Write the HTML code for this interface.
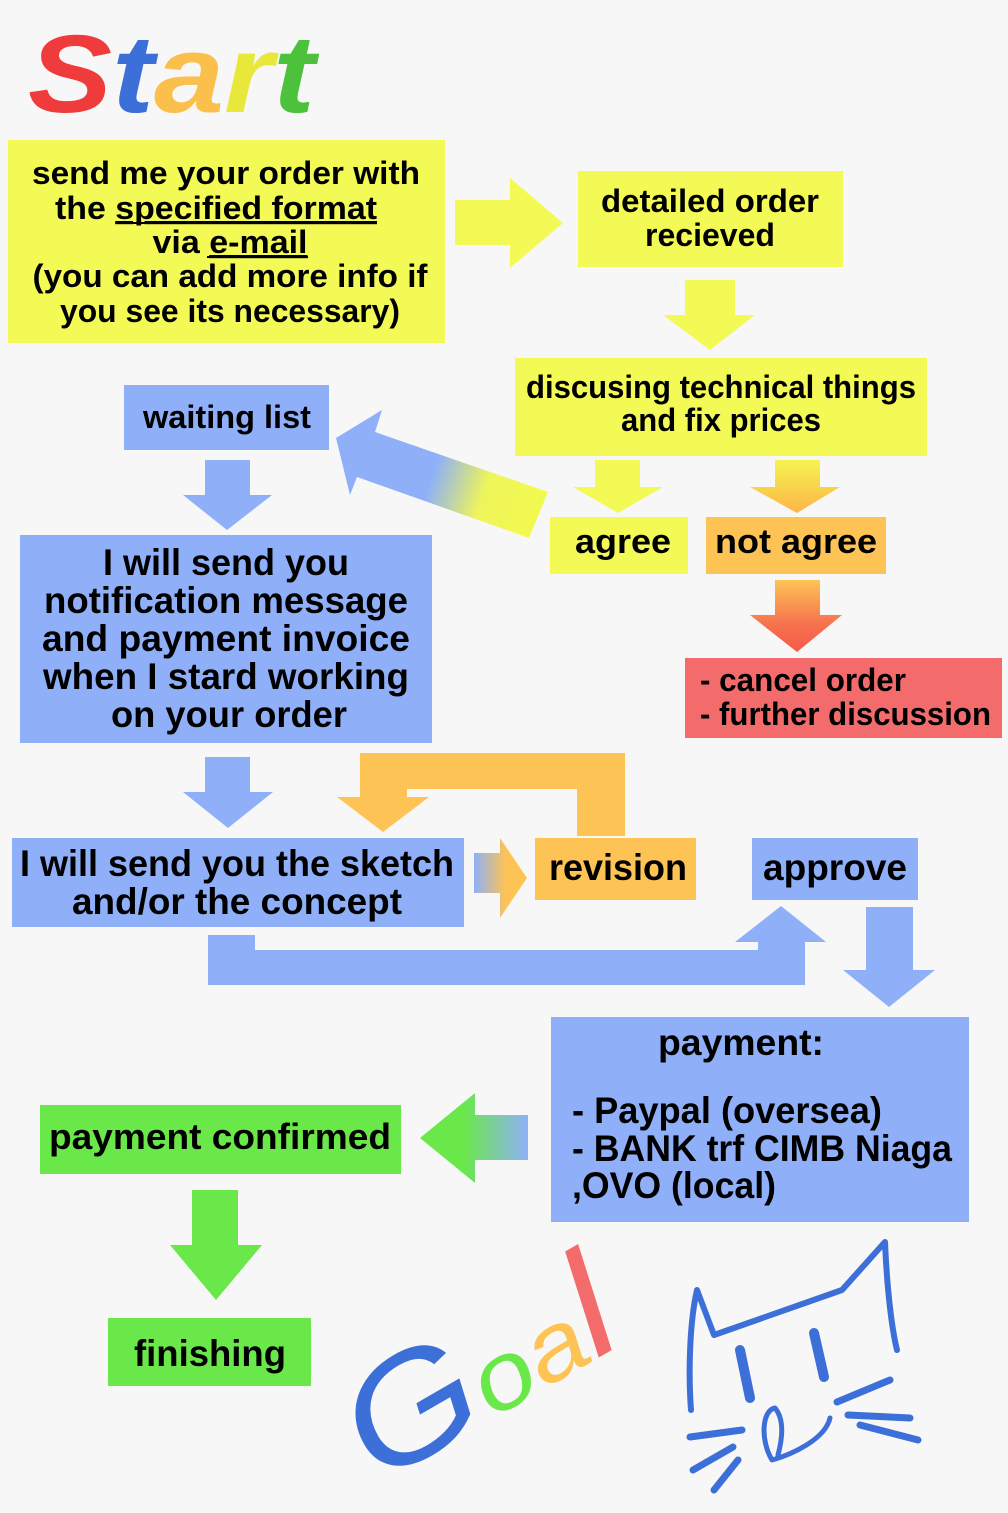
<!DOCTYPE html>
<html><head><meta charset="utf-8"><style>
html,body{margin:0;padding:0;background:#f7f7f7;}
svg{display:block;}
text{font-family:"Liberation Sans",sans-serif;font-weight:bold;fill:#000;}
</style></head><body>
<svg width="1008" height="1513" viewBox="0 0 1008 1513" xmlns="http://www.w3.org/2000/svg">
<defs>
<linearGradient id="gDiag" x1="548" y1="510" x2="340" y2="440" gradientUnits="userSpaceOnUse">
<stop offset="0" stop-color="#f3fa4c"/><stop offset="0.3" stop-color="#eef55a"/><stop offset="0.55" stop-color="#8fb0f8"/><stop offset="1" stop-color="#8fb0f8"/></linearGradient>
<linearGradient id="gNot" x1="0" y1="460" x2="0" y2="513" gradientUnits="userSpaceOnUse"><stop offset="0" stop-color="#f5f350"/><stop offset="1" stop-color="#fdb548"/></linearGradient>
<linearGradient id="gRed" x1="0" y1="580" x2="0" y2="652" gradientUnits="userSpaceOnUse"><stop offset="0" stop-color="#fdc455"/><stop offset="0.6" stop-color="#f6734e"/><stop offset="1" stop-color="#f45a4a"/></linearGradient>
<linearGradient id="gRev" x1="474" y1="0" x2="527" y2="0" gradientUnits="userSpaceOnUse"><stop offset="0" stop-color="#8fb0f8"/><stop offset="0.6" stop-color="#fdc455"/><stop offset="1" stop-color="#fdc455"/></linearGradient>
<linearGradient id="gPay" x1="528" y1="0" x2="420" y2="0" gradientUnits="userSpaceOnUse"><stop offset="0" stop-color="#8fb0f8"/><stop offset="0.6" stop-color="#6ae84a"/><stop offset="1" stop-color="#6ae84a"/></linearGradient>
</defs>
<rect width="1008" height="1513" fill="#f7f7f7"/>

<!-- Start -->
<text x="28" y="112" font-size="110" textLength="287" lengthAdjust="spacingAndGlyphs" style="font-weight:bold;font-style:italic"><tspan fill="#ef3b3b">S</tspan><tspan fill="#3d6fd8">t</tspan><tspan fill="#fbbf4c">a</tspan><tspan fill="#e8e83a">r</tspan><tspan fill="#4cc23c">t</tspan></text>

<rect x="8" y="140" width="437" height="203" fill="#f3fa55"/>
<g font-size="32" text-anchor="middle">
<text x="226" y="184" textLength="388" lengthAdjust="spacingAndGlyphs">send me your order with</text>
<text x="216" y="219" textLength="322" lengthAdjust="spacingAndGlyphs">the <tspan text-decoration="underline">specified format</tspan></text>
<text x="230" y="253" textLength="155" lengthAdjust="spacingAndGlyphs">via <tspan text-decoration="underline">e-mail</tspan></text>
<text x="230" y="287" textLength="395" lengthAdjust="spacingAndGlyphs">(you can add more info if</text>
<text x="230" y="322" textLength="340" lengthAdjust="spacingAndGlyphs">you see its necessary)</text>
</g>
<line x1="117" y1="223" x2="376" y2="223" stroke="#000" stroke-width="2"/>
<line x1="207" y1="257" x2="308" y2="257" stroke="#000" stroke-width="2"/>

<polygon points="455,200 510,200 510,178 563,223 510,268 510,245 455,245" fill="#f3fa55"/>

<rect x="578" y="171" width="265" height="96" fill="#f3fa55"/>
<g font-size="32" text-anchor="middle">
<text x="710" y="212" textLength="218" lengthAdjust="spacingAndGlyphs">detailed order</text>
<text x="710" y="246" textLength="130" lengthAdjust="spacingAndGlyphs">recieved</text>
</g>
<polygon points="685,280 735,280 735,315 755,315 710,350 663,315 685,315" fill="#f3fa55"/>

<rect x="515" y="358" width="412" height="98" fill="#f3fa55"/>
<g font-size="32" text-anchor="middle">
<text x="721" y="398" textLength="390" lengthAdjust="spacingAndGlyphs">discusing technical things</text>
<text x="721" y="431" textLength="200" lengthAdjust="spacingAndGlyphs">and fix prices</text>
</g>

<rect x="124" y="385" width="205" height="65" fill="#8fb0f8"/>
<text x="227" y="428" font-size="32" text-anchor="middle" textLength="168" lengthAdjust="spacingAndGlyphs">waiting list</text>

<polygon points="548,492 529,538 357,477 350,495 336,438 382,410 375,432" fill="url(#gDiag)"/>

<polygon points="205,460 250,460 250,495 272,495 227,530 183,495 205,495" fill="#8fb0f8"/>
<polygon points="595,460 640,460 640,487 663,487 618,513 573,487 595,487" fill="#f3fa55"/>
<polygon points="775,460 820,460 820,487 840,487 797,513 750,487 775,487" fill="url(#gNot)"/>

<rect x="550" y="517" width="138" height="57" fill="#f3fa55"/>
<text x="623" y="553" font-size="34" text-anchor="middle" textLength="96" lengthAdjust="spacingAndGlyphs">agree</text>
<rect x="706" y="517" width="180" height="57" fill="#fdc455"/>
<text x="796" y="553" font-size="34" text-anchor="middle" textLength="162" lengthAdjust="spacingAndGlyphs">not agree</text>

<polygon points="775,580 820,580 820,615 842,615 797,652 750,615 775,615" fill="url(#gRed)"/>
<rect x="685" y="658" width="317" height="80" fill="#f46b6b"/>
<g font-size="32">
<text x="700" y="691" textLength="206" lengthAdjust="spacingAndGlyphs">- cancel order</text>
<text x="700" y="725" textLength="291" lengthAdjust="spacingAndGlyphs">- further discussion</text>
</g>

<rect x="20" y="535" width="412" height="208" fill="#8fb0f8"/>
<g font-size="37" text-anchor="middle">
<text x="226" y="575" textLength="246" lengthAdjust="spacingAndGlyphs">I will send you</text>
<text x="226" y="613" textLength="364" lengthAdjust="spacingAndGlyphs">notification message</text>
<text x="226" y="651" textLength="368" lengthAdjust="spacingAndGlyphs">and payment invoice</text>
<text x="226" y="689" textLength="366" lengthAdjust="spacingAndGlyphs">when I stard working</text>
<text x="229" y="727" textLength="236" lengthAdjust="spacingAndGlyphs">on your order</text>
</g>

<polygon points="205,757 250,757 250,792 273,792 228,828 183,792 205,792" fill="#8fb0f8"/>

<polygon points="577,836 625,836 625,753 360,753 360,797 337,797 383,832 429,797 407,797 407,789 577,789" fill="#fdc455"/>

<rect x="12" y="838" width="452" height="89" fill="#8fb0f8"/>
<g font-size="37" text-anchor="middle">
<text x="237" y="876" textLength="434" lengthAdjust="spacingAndGlyphs">I will send you the sketch</text>
<text x="237" y="914" textLength="330" lengthAdjust="spacingAndGlyphs">and/or the concept</text>
</g>

<polygon points="474,853 500,853 500,838 527,878 500,918 500,893 474,893" fill="url(#gRev)"/>
<rect x="535" y="838" width="161" height="62" fill="#fdc455"/>
<text x="618" y="880" font-size="37" text-anchor="middle" textLength="138" lengthAdjust="spacingAndGlyphs">revision</text>
<rect x="752" y="838" width="166" height="62" fill="#8fb0f8"/>
<text x="835" y="880" font-size="37" text-anchor="middle" textLength="144" lengthAdjust="spacingAndGlyphs">approve</text>

<polygon points="208,935 255,935 255,950 758,950 758,942 735,942 781,906 826,942 805,942 805,985 208,985" fill="#8fb0f8"/>
<polygon points="866,907 913,907 913,970 935,970 889,1007 843,970 866,970" fill="#8fb0f8"/>

<rect x="551" y="1017" width="418" height="205" fill="#8fb0f8"/>
<g font-size="37">
<text x="741" y="1055" text-anchor="middle" textLength="166" lengthAdjust="spacingAndGlyphs">payment:</text>
<text x="572" y="1123" textLength="310" lengthAdjust="spacingAndGlyphs">- Paypal (oversea)</text>
<text x="572" y="1161" textLength="380" lengthAdjust="spacingAndGlyphs">- BANK trf CIMB Niaga</text>
<text x="572" y="1198" textLength="204" lengthAdjust="spacingAndGlyphs">,OVO (local)</text>
</g>

<polygon points="528,1115 528,1160 475,1160 475,1183 420,1138 475,1093 475,1115" fill="url(#gPay)"/>
<rect x="40" y="1105" width="361" height="69" fill="#6ae84a"/>
<text x="220" y="1149" font-size="36" text-anchor="middle" textLength="342" lengthAdjust="spacingAndGlyphs">payment confirmed</text>

<polygon points="192,1190 238,1190 238,1245 262,1245 216,1300 170,1245 192,1245" fill="#6ae84a"/>
<rect x="108" y="1318" width="203" height="68" fill="#6ae84a"/>
<text x="210" y="1366" font-size="37" text-anchor="middle" textLength="152" lengthAdjust="spacingAndGlyphs">finishing</text>

<!-- Goal -->
<g transform="translate(378,1485) rotate(-30)">
<text x="0" y="0" font-size="150" style="font-style:italic;font-weight:normal" textLength="290" lengthAdjust="spacingAndGlyphs"><tspan fill="#3d6fd8">G</tspan><tspan fill="#6ae84a" font-size="95">o</tspan><tspan fill="#fdc455" font-size="95">a</tspan><tspan fill="#f46b6b">l</tspan></text>
</g>

<!-- cat -->
<g fill="none" stroke="#3d6fd8" stroke-linecap="round" stroke-linejoin="round">
<path d="M691,1410 C688,1370 690,1320 697,1290 L714,1335 L842,1290 L885,1242 C887,1290 892,1330 897,1350" stroke-width="6"/>
<path d="M740,1350 L750,1398" stroke-width="10"/>
<path d="M814,1333 L824,1377" stroke-width="10"/>
<path d="M775,1408 C762,1410 760,1440 772,1460 C790,1455 825,1440 830,1418 M775,1408 C785,1420 782,1440 778,1455" stroke-width="5"/>
<path d="M690,1437 L742,1430 M693,1470 L733,1447 M714,1490 L738,1460" stroke-width="7"/>
<path d="M837,1402 L890,1380 M848,1415 L910,1418 M860,1425 L918,1440" stroke-width="7"/>
</g>
</svg>
</body></html>
